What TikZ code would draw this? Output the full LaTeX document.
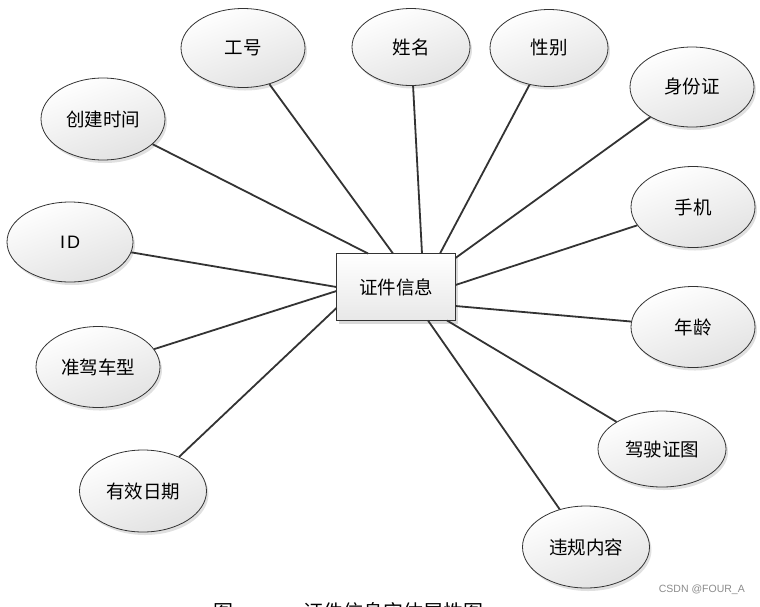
\documentclass[tikz,border=0pt]{standalone}
\usepackage{fontspec}
\newfontfamily\cjk{Noto Sans CJK SC}
\newfontfamily\lat{Liberation Sans}
\usetikzlibrary{shapes.geometric,shadows}
\definecolor{edgec}{HTML}{333333}
\definecolor{fillb}{HTML}{E2E2E2}
\tikzset{
  attr/.style={ellipse, draw=edgec, line width=0.8pt, minimum width=124pt, minimum height=79pt,
    top color=white, bottom color=fillb, shading angle=20,
    drop shadow={shadow xshift=2pt, shadow yshift=-3pt, fill=black, opacity=0.12},
    font=\cjk\fontsize{18.5}{22}\selectfont, inner sep=0pt},
  entity/.style={rectangle, draw=edgec, line width=0.9pt, minimum width=119pt, minimum height=67pt,
    top color=white, bottom color=fillb!80,
    drop shadow={shadow xshift=2pt, shadow yshift=-3pt, fill=black, opacity=0.15},
    font=\cjk\fontsize{18.5}{22}\selectfont, inner sep=0pt},
  link/.style={draw=edgec, line width=1.8pt}
}
\begin{document}
\begin{tikzpicture}[x=1pt,y=-1pt]
\useasboundingbox (0,0) rectangle (760,606);
\clip (0,0) rectangle (760,606);
\fill[white] (0,0) rectangle (760,606);
% entity
\node[entity] (e) at (396,287) {证件信息};
% border points
\coordinate (t1) at (368,253.5);
\coordinate (t2) at (393,253.5);
\coordinate (t3) at (422,253.5);
\coordinate (t4) at (440,253.5);
\coordinate (r1) at (455.5,258);
\coordinate (r2) at (455.5,285);
\coordinate (r3) at (455.5,306);
\coordinate (b1) at (447,320.5);
\coordinate (b2) at (428,320.5);
\coordinate (l1) at (336.5,287);
\coordinate (l2) at (336.5,291);
\coordinate (l3) at (336.5,308);
% attribute centres
\coordinate (pgh) at (243,48);
\coordinate (pxm) at (411,47);
\coordinate (pxb) at (549,48);
\coordinate (psf) at (692,87);
\coordinate (pcj) at (103,119);
\coordinate (pid) at (70,242);
\coordinate (psj) at (693,207);
\coordinate (pzj) at (98,367);
\coordinate (pnl) at (693,327);
\coordinate (pjs) at (662,449);
\coordinate (pyx) at (143,491);
\coordinate (pwg) at (586,547);
% attribute nodes
\node[attr] (gh) at (pgh) {工号};
\node[attr, minimum width=118pt, minimum height=77pt] (xm) at (pxm) {姓名};
\node[attr, minimum width=118pt, minimum height=77pt] (xb) at (pxb) {性别};
\node[attr, minimum height=80pt] (sf) at (psf) {身份证};
\node[attr, minimum height=82pt] (cj) at (pcj) {创建时间};
\node[attr, minimum width=126pt, minimum height=80pt, font=\lat\fontsize{18}{22}\selectfont] (id) at (pid) {I\kern2pt D};
\node[attr, minimum height=81pt] (sj) at (psj) {手机};
\node[attr, minimum height=81pt] (zj) at (pzj) {准驾车型};
\node[attr, minimum height=81pt] (nl) at (pnl) {年龄};
\node[attr, minimum width=128pt, minimum height=76pt] (js) at (pjs) {驾驶证图};
\node[attr, minimum width=127pt, minimum height=82pt] (yx) at (pyx) {有效日期};
\node[attr, minimum width=127pt, minimum height=82pt] (wg) at (pwg) {违规内容};
% connectors
\draw[link] (gh) -- (t2);
\draw[link] (xm) -- (t3);
\draw[link] (xb) -- (t4);
\draw[link] (sf) -- (r1);
\draw[link] (cj) -- (t1);
\draw[link] (id) -- (l1);
\draw[link] (sj) -- (r2);
\draw[link] (zj) -- (l2);
\draw[link] (nl) -- (r3);
\draw[link] (js) -- (b1);
\draw[link] (yx) -- (l3);
\draw[link] (wg) -- (b2);
% watermark and caption (cut off at the lower edge, as in the reference)
\node[font=\lat\fontsize{10.5}{12}\selectfont, text=black!45, anchor=east, inner sep=0pt] (wm) at (745,590) {CSDN @FOUR\_A};
\node[font=\cjk\fontsize{20}{24}\selectfont, anchor=west, inner sep=0pt] (cap1) at (213,612) {图};
\node[font=\cjk\fontsize{20}{24}\selectfont, anchor=west, inner sep=0pt] (cap2) at (303,612) {证件信息实体属性图};
\end{tikzpicture}
\end{document}
